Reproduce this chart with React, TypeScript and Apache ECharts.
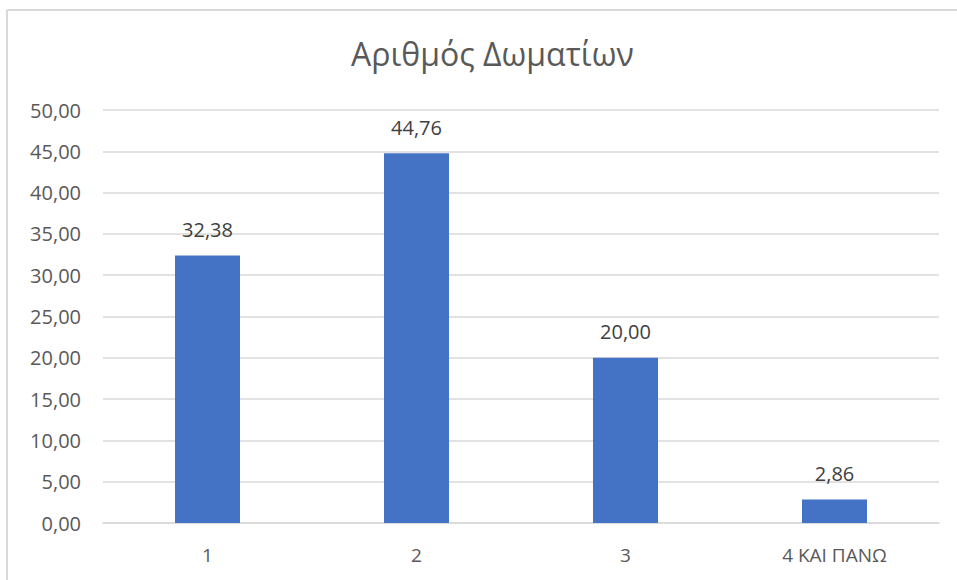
import React, { useEffect, useRef } from "react";
import * as echarts from "echarts";

const categories = ["1", "2", "3", "4 ΚΑΙ ΠΑΝΩ"];
const values = [32.38, 44.76, 20.0, 2.86];
const title = "Αριθμός Δωματίων";

const fmt = (v: number) => v.toFixed(2).replace(".", ",");

export default function App() {
  const ref = useRef<HTMLDivElement>(null);
  useEffect(() => {
    if (!ref.current) return;
    const chart = echarts.init(ref.current, null, { renderer: "svg" });
    chart.setOption({
      animation: false,
      backgroundColor: "#ffffff",
      title: {
        text: title,
        left: 346,
        top: 32,
        textStyle: {
          fontFamily: "Open Sans",
          fontSize: 32,
          fontWeight: "normal",
          color: "#595959",
        },
      },
      graphic: [
        {
          type: "line",
          shape: { x1: 7, y1: 10, x2: 957, y2: 10 },
          style: { stroke: "#d9d9d9", lineWidth: 2 },
        },
        {
          type: "line",
          shape: { x1: 7, y1: 10, x2: 7, y2: 580 },
          style: { stroke: "#d9d9d9", lineWidth: 2 },
        },
      ],
      grid: { left: 103, right: 18, top: 110, bottom: 57 },
      xAxis: {
        type: "category",
        data: categories,
        axisTick: { show: false },
        axisLine: { lineStyle: { color: "#d9d9d9", width: 1.5 } },
        axisLabel: {
          margin: 22,
          fontFamily: "Open Sans",
          fontSize: 19,
          color: "#595959",
        },
      },
      yAxis: {
        type: "value",
        min: 0,
        max: 50,
        interval: 5,
        axisLine: { show: false },
        axisTick: { show: false },
        splitLine: { lineStyle: { color: "#d9d9d9", width: 1.5 } },
        axisLabel: {
          margin: 22,
          fontFamily: "Open Sans",
          fontSize: 20,
          color: "#595959",
          formatter: (v: number) => fmt(v),
        },
      },
      series: [
        {
          type: "bar",
          data: values,
          barWidth: 65,
          itemStyle: { color: "#4472C4" },
          label: {
            show: true,
            position: "top",
            distance: 16,
            fontFamily: "Open Sans",
            fontSize: 20,
            color: "#404040",
            formatter: (p: any) => fmt(p.value),
          },
        },
      ],
    });
    return () => chart.dispose();
  }, []);
  return (
    <div
      ref={ref}
      style={{ position: "fixed", left: 0, top: 0, width: 957, height: 580 }}
    />
  );
}
